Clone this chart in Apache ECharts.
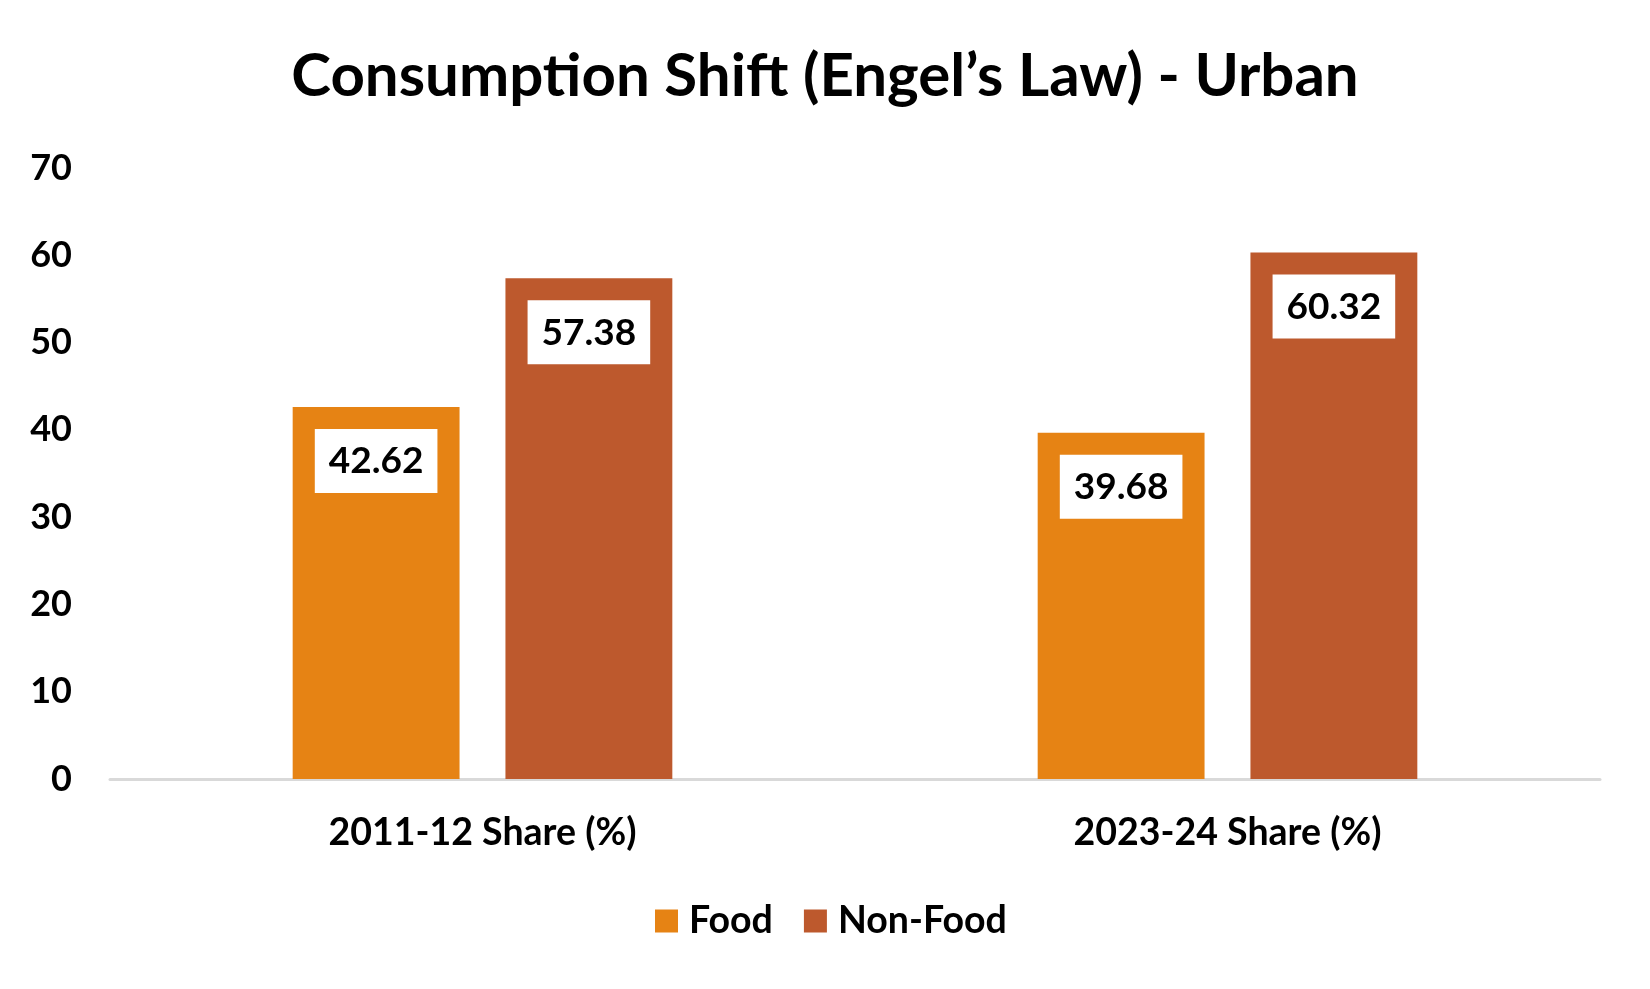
<!DOCTYPE html>
<html>
<head>
<meta charset="utf-8">
<script src="https://cdn.jsdelivr.net/npm/echarts@6/dist/echarts.min.js"></script>
<style>
html,body{margin:0;padding:0;background:#fff;}
#chart{width:1650px;height:989px;}
</style>
</head>
<body>
<div id="chart"></div>
<script>
const titleText = "Consumption Shift (Engel\u2019s Law) - Urban";
const categories = ["2011-12 Share (%)", "2023-24 Share (%)"];
const seriesNames = ["Food", "Non-Food"];
const foodValues = [42.62, 39.68];
const nonFoodValues = [57.38, 60.32];
const yTicks = [0, 10, 20, 30, 40, 50, 60, 70];

const FONT = "Lato";
const chart = echarts.init(document.getElementById('chart'), null, {renderer: 'canvas'});

const labelStyle = {
  show: true,
  position: 'insideTop',
  distance: 22,
  formatter: p => p.value.toFixed(2),
  backgroundColor: '#ffffff',
  padding: [14, 14, 13, 14],
  color: '#000',
  fontFamily: FONT,
  fontWeight: 'bold',
  fontSize: 37
};

chart.setOption({
  animation: false,
  backgroundColor: '#ffffff',
  title: {
    text: titleText,
    left: 'center',
    top: 42,
    textStyle: {fontFamily: FONT, fontWeight: 'bold', fontSize: 60, color: '#000'}
  },
  legend: {
    data: seriesNames,
    bottom: 44,
    left: 650,
    itemWidth: 23,
    itemHeight: 23,
    itemGap: 31,
    icon: 'rect',
    textStyle: {fontFamily: FONT, fontWeight: 'bold', fontSize: 37.5, color: '#000', padding: [0, 0, 0, 6]}
  },
  grid: {left: 110, right: 50, top: 168, bottom: 210, containLabel: false},
  xAxis: {
    type: 'category',
    data: categories,
    axisLine: {show: true, lineStyle: {color: '#d9d9d9', width: 3}},
    axisTick: {show: false},
    axisLabel: {fontFamily: FONT, fontWeight: 'bold', fontSize: 37.5, color: '#000', margin: 35}
  },
  yAxis: {
    type: 'value',
    min: yTicks[0],
    max: yTicks[yTicks.length - 1],
    interval: 10,
    splitLine: {show: false},
    axisLine: {show: false},
    axisTick: {show: false},
    axisLabel: {fontFamily: FONT, fontWeight: 'bold', fontSize: 36, color: '#000', margin: 38}
  },
  series: [
    {name: seriesNames[0], type: 'bar', data: foodValues, barWidth: '22.4%', barGap: '27.5%',
     itemStyle: {color: '#e68314'}, label: labelStyle},
    {name: seriesNames[1], type: 'bar', data: nonFoodValues, barWidth: '22.4%', barGap: '27.5%',
     itemStyle: {color: '#bd592d'}, label: labelStyle}
  ]
});
</script>
</body>
</html>
